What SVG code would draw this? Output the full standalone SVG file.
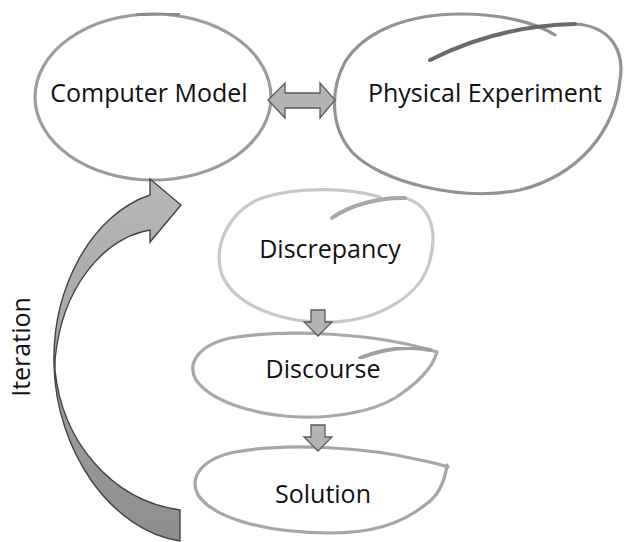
<svg xmlns="http://www.w3.org/2000/svg" width="624" height="542" viewBox="0 0 624 542">
<defs>
<linearGradient id="iterGrad" x1="0" y1="0" x2="0" y2="1">
<stop offset="0" stop-color="#b8b8b8"/>
<stop offset="1" stop-color="#8e8e8e"/>
</linearGradient>
<filter id="soft" x="-5%" y="-5%" width="110%" height="110%"><feGaussianBlur stdDeviation="0.6"/></filter>
</defs>
<style>
.lbl{font-family:"Open Sans","Liberation Sans",sans-serif;font-size:25px;fill:#111;text-anchor:middle}
.loop{fill:none;stroke-width:3.2;stroke-linecap:round;filter:url(#soft)}
.start{fill:none;stroke-width:4;stroke-linecap:round;filter:url(#soft)}
.arr{fill:#b3b3b3;stroke:#5a5a5a;stroke-width:1.3;stroke-linejoin:miter}
</style>
<rect width="624" height="542" fill="#ffffff"/>

<g id="computer-model">
<ellipse cx="153" cy="97" rx="118" ry="83" class="loop" stroke="#9c9c9c"/>
<path d="M138 15 Q158 12 178 14" class="start" stroke="#8a8a8a"/>
<text x="149" y="102" class="lbl">Computer Model</text>
</g>

<g id="physical-experiment">
<path d="M575 24 C610 26 625 50 620 80 C615 130 580 175 520 190 C460 202 380 182 352 152 C330 127 330 90 345 62 C365 30 410 14 460 14 C500 14 535 22 555 35" class="loop" stroke="#939393"/>
<path d="M430 60 C470 40 520 25 575 24" class="start" stroke="#6a6a6a"/>
<text x="485" y="102" class="lbl">Physical Experiment</text>
</g>

<g id="discrepancy">
<path d="M405 198 C430 205 438 230 430 260 C422 295 380 320 333 322 C280 324 235 305 222 275 C212 245 230 210 262 198 C300 186 350 188 380 197" class="loop" stroke="#c8c8c8"/>
<path d="M332 218 C350 205 380 197 405 198" class="start" stroke="#a8a8a8"/>
<text x="330" y="258" class="lbl">Discrepancy</text>
</g>

<g id="discourse">
<path d="M437 352 C432 370 415 385 395 398 C370 413 330 418 300 417 C250 415 210 400 196 380 C186 362 200 345 230 338 C290 328 380 334 437 352" class="loop" stroke="#a8a8a8"/>
<path d="M360 358 C380 350 405 345 430 350" class="start" stroke="#a0a0a0"/>
<text x="323" y="378" class="lbl">Discourse</text>
</g>

<g id="solution">
<path d="M447 465 C445 480 440 495 425 505 C400 525 370 533 330 533 C270 533 215 520 198 495 C188 475 205 458 235 452 C290 442 370 448 420 460 C435 463 445 466 448 467" class="loop" stroke="#a6a6a6"/>
<text x="323" y="503" class="lbl">Solution</text>
</g>

<g id="connectors">
<path d="M268 100 L285 83 L285 93 L320 93 L320 83 L335 100 L320 118 L320 108 L285 108 L285 118 Z" class="arr" fill="#b8b8b8"/>
<path d="M311 310 L325 310 L325 322 L332 322 L318 336 L304 322 L311 322 Z" class="arr"/>
<path d="M311 425 L325 425 L325 437 L332 437 L318 451 L304 437 L311 437 Z" class="arr"/>
<path d="M180 541 C110 530 56 450 54 365 C52 290 90 215 150 195 L150 179 L181 205 L150 242 L150 230 C105 238 62 285 55 360 L55 370 C62 440 110 500 180 510 Z" fill="url(#iterGrad)" stroke="#444" stroke-width="1.4" stroke-linejoin="miter"/>
</g>

<text class="lbl" transform="translate(30 347) rotate(-90)" x="0" y="0">Iteration</text>
</svg>
